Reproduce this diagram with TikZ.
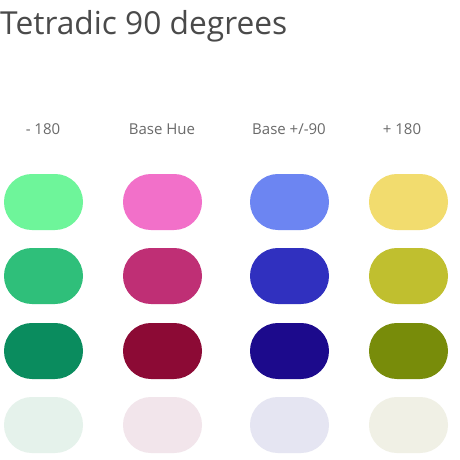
\documentclass[tikz,border=0pt]{standalone}
\usepackage{fontspec}
\setmainfont{Open Sans}
\definecolor{titlegray}{HTML}{4A4A4A}
\definecolor{labelgray}{HTML}{6A6A6A}
\definecolor{ga}{HTML}{6EF59A}
\definecolor{gb}{HTML}{2FBF7A}
\definecolor{gc}{HTML}{0A8C5E}
\definecolor{gd}{HTML}{E5F2EB}
\definecolor{pa}{HTML}{F270C9}
\definecolor{pb}{HTML}{BF2F75}
\definecolor{pc}{HTML}{8C0A35}
\definecolor{pd}{HTML}{F2E5EB}
\definecolor{ba}{HTML}{6C85F2}
\definecolor{bb}{HTML}{3030BF}
\definecolor{bc}{HTML}{1C0A8C}
\definecolor{bd}{HTML}{E5E5F2}
\definecolor{ya}{HTML}{F2DC6E}
\definecolor{yb}{HTML}{C0BF2F}
\definecolor{yc}{HTML}{788C0A}
\definecolor{yd}{HTML}{F0F0E5}
\tikzset{
  pill/.style={draw=none, minimum width=79pt, minimum height=56pt, rounded corners=27.9pt, inner sep=0pt},
  collabel/.style={text=labelgray, font=\fontsize{15pt}{18pt}\selectfont, inner sep=0pt},
  titletext/.style={text=titlegray, font=\fontsize{31.7pt}{38pt}\selectfont, inner sep=0pt, anchor=base west}
}
\begin{document}
\begin{tikzpicture}[x=1pt,y=-1pt]
\useasboundingbox[fill=white] (0,0) rectangle (460,460);
\node[titletext] (title) at (0,35) {Tetradic 90 degrees};
\node[collabel] (l1) at (43,129) {- 180};
\node[collabel] (l2) at (162,129) {Base Hue};
\node[collabel] (l3) at (289,129) {Base +/-90};
\node[collabel] (l4) at (402,129) {+ 180};
\foreach \c/\x in {g/43.5, p/162.5, b/289.5, y/408.5}{
  \node[pill, fill=\c a] (\c1) at (\x,202) {};
  \node[pill, fill=\c b] (\c2) at (\x,276) {};
  \node[pill, fill=\c c] (\c3) at (\x,351) {};
  \node[pill, fill=\c d] (\c4) at (\x,425) {};
}
\end{tikzpicture}
\end{document}
